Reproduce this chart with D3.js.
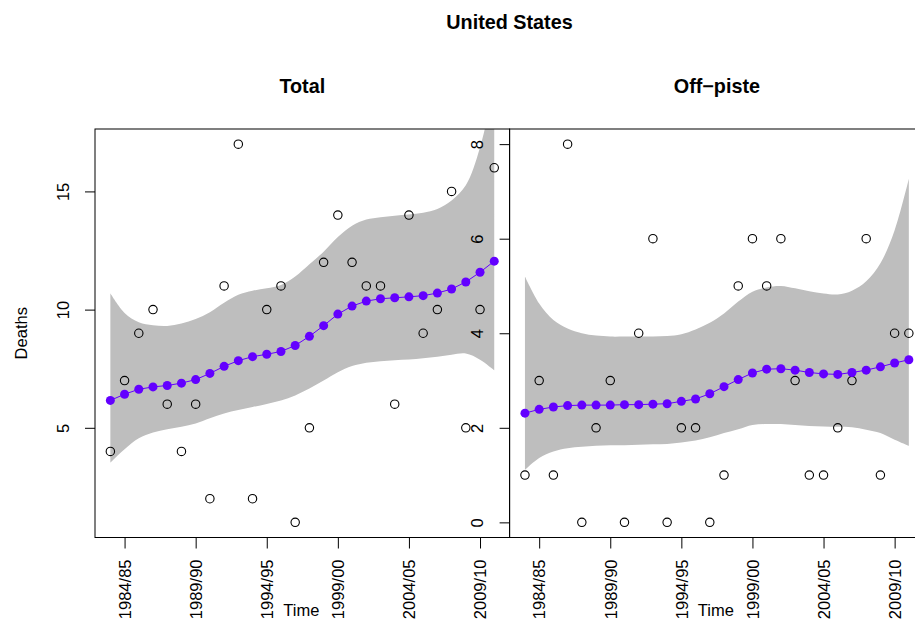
<!DOCTYPE html>
<html>
<head>
<meta charset="utf-8">
<script src="https://cdn.jsdelivr.net/npm/d3@7"></script>
<style>
  body { margin: 0; background: #fff; }
  svg { display: block; font-family: "Liberation Sans", Arial, sans-serif; }
</style>
</head>
<body>
<div id="chart"></div>
<script>
// seasons 1983/84 .. 2010/11
const seasons = d3.range(1983, 2011).map(y => y + "/" + String((y + 1) % 100).padStart(2, "0"));
const tickSeasons = ["1984/85", "1989/90", "1994/95", "1999/00", "2004/05", "2009/10"];

const totalDeaths = [4, 7, 9, 10, 6, 4, 6, 2, 11, 17, 2, 10, 11, 1, 5, 12, 14, 12, 11, 11, 6, 14, 9, 10, 15, 5, 10, 16];
const totalFit = [6.16, 6.42, 6.63, 6.73, 6.79, 6.89, 7.04, 7.30, 7.60, 7.84, 8.01, 8.11, 8.23, 8.48,
                  8.87, 9.32, 9.81, 10.15, 10.36, 10.46, 10.50, 10.54, 10.59, 10.70, 10.87, 11.17, 11.58, 12.05];
const totalUpper = [10.69, 9.86, 9.47, 9.34, 9.31, 9.41, 9.6, 9.89, 10.29, 10.63, 10.8, 10.9, 11.04, 11.4,
                    11.92, 12.45, 13.07, 13.55, 13.81, 13.91, 13.97, 14.02, 14.1, 14.26, 14.62, 15.26, 16.86, 19.5];
const totalLower = [3.52, 4.09, 4.56, 4.8, 4.94, 5.04, 5.18, 5.4, 5.61, 5.75, 5.88, 6.01, 6.15, 6.37,
                    6.66, 7.0, 7.35, 7.61, 7.75, 7.82, 7.86, 7.89, 7.94, 8.01, 8.09, 8.14, 7.88, 7.43];

const offDeaths = [1, 3, 1, 8, 0, 2, 3, 0, 4, 6, 0, 2, 2, 0, 1, 5, 6, 5, 6, 3, 1, 1, 2, 3, 6, 1, 4, 4];
const offFit = [2.31, 2.39, 2.44, 2.47, 2.48, 2.48, 2.48, 2.49, 2.49, 2.50, 2.51, 2.56, 2.61, 2.72,
                2.87, 3.02, 3.16, 3.24, 3.25, 3.22, 3.17, 3.14, 3.13, 3.17, 3.22, 3.29, 3.37, 3.44];
const offUpper = [5.2, 4.63, 4.28, 4.1, 4.0, 3.95, 3.93, 3.93, 3.93, 3.93, 3.94, 3.98, 4.08, 4.22,
                  4.42, 4.67, 4.88, 4.97, 5.0, 4.95, 4.89, 4.84, 4.82, 4.9, 5.1, 5.48, 6.18, 7.27];
const offLower = [1.11, 1.36, 1.5, 1.57, 1.6, 1.62, 1.63, 1.63, 1.64, 1.65, 1.66, 1.69, 1.73, 1.80,
                  1.89, 1.97, 2.06, 2.08, 2.08, 2.06, 2.04, 2.03, 2.02, 2.01, 1.96, 1.89, 1.75, 1.62];

const totalTicks = [5, 10, 15];
const offTicks = [0, 2, 4, 6, 8];

const width = 915, height = 624;
const boxTop = 129, boxBottom = 537.5, panelW = 414.6;
const fs = 16.5;
const purple = "#6300ff";

const panels = [
    {title: "Total", left: 95, obs: totalDeaths, fit: totalFit, up: totalUpper, lo: totalLower, ticks: totalTicks, ylab: "Deaths"},
    {title: "Off\u2212piste", left: 95 + panelW, obs: offDeaths, fit: offFit, up: offUpper, lo: offLower, ticks: offTicks, ylab: null}
];

const svg = d3.select("#chart").append("svg")
    .attr("width", width)
    .attr("height", height);

svg.append("text")
    .attr("x", 509.5).attr("y", 29)
    .attr("text-anchor", "middle")
    .style("font-size", (fs * 1.2) + "px")
    .style("font-weight", "bold")
    .text("United States");

panels.forEach((p, k) => {
    const n = p.obs.length;
    const pad = (n - 1) * 0.04;
    const x = d3.scaleLinear().domain([-pad, n - 1 + pad]).range([p.left, p.left + panelW]);
    const ext = d3.extent(p.obs);
    const ypad = (ext[1] - ext[0]) * 0.04;
    const y = d3.scaleLinear().domain([ext[0] - ypad, ext[1] + ypad]).range([boxBottom, boxTop]);

    const g = svg.append("g");

    const clipId = "clip" + k;
    svg.append("clipPath").attr("id", clipId)
        .append("rect")
        .attr("x", p.left).attr("y", boxTop)
        .attr("width", panelW).attr("height", boxBottom - boxTop);

    const area = d3.area()
        .x((d, i) => x(i))
        .y0((d, i) => y(p.lo[i]))
        .y1((d, i) => y(p.up[i]))
        .curve(d3.curveCatmullRom);

    g.append("path")
        .datum(p.obs)
        .attr("clip-path", `url(#${clipId})`)
        .attr("fill", "#bebebe")
        .attr("d", area);

    g.selectAll("circle.obs")
        .data(p.obs)
        .join("circle")
        .attr("class", "obs")
        .attr("cx", (d, i) => x(i))
        .attr("cy", d => y(d))
        .attr("r", 4.2)
        .attr("fill", "none")
        .attr("stroke", "#000")
        .attr("stroke-width", 1.1);

    const line = d3.line()
        .x((d, i) => x(i))
        .y(d => y(d));

    g.append("path")
        .datum(p.fit)
        .attr("fill", "none")
        .attr("stroke", purple)
        .attr("stroke-width", 1)
        .attr("d", line);

    g.selectAll("circle.fit")
        .data(p.fit)
        .join("circle")
        .attr("class", "fit")
        .attr("cx", (d, i) => x(i))
        .attr("cy", d => y(d))
        .attr("r", 4.5)
        .attr("fill", purple);

    // x axis
    const xAxis = g.append("g")
        .attr("transform", `translate(0,${boxBottom})`)
        .call(d3.axisBottom(x)
            .tickValues(tickSeasons.map(s => seasons.indexOf(s)))
            .tickFormat(i => seasons[i])
            .tickSize(11));
    xAxis.select(".domain").remove();
    xAxis.selectAll("line").attr("stroke", "#000");
    xAxis.selectAll("text")
        .attr("x", 0).attr("y", 0).attr("dy", "0.35em")
        .attr("text-anchor", "end")
        .attr("transform", "translate(0,22) rotate(-90)")
        .attr("fill", "#000")
        .style("font-size", fs + "px")
        .style("font-family", "inherit");

    // y axis
    const yAxis = g.append("g")
        .attr("transform", `translate(${p.left},0)`)
        .call(d3.axisLeft(y).tickValues(p.ticks).tickSize(10));
    yAxis.select(".domain").remove();
    yAxis.selectAll("line").attr("stroke", "#000");
    yAxis.selectAll("text")
        .attr("x", 0).attr("y", 0).attr("dy", "0.35em")
        .attr("text-anchor", "middle")
        .attr("transform", "translate(-32,0) rotate(-90)")
        .attr("fill", "#000")
        .style("font-size", fs + "px")
        .style("font-family", "inherit");

    // box
    g.append("rect")
        .attr("x", p.left).attr("y", boxTop)
        .attr("width", panelW).attr("height", boxBottom - boxTop)
        .attr("fill", "none")
        .attr("stroke", "#000")
        .attr("stroke-width", 1);

    g.append("text")
        .attr("x", p.left + panelW / 2).attr("y", 93)
        .attr("text-anchor", "middle")
        .style("font-size", (fs * 1.2) + "px")
        .style("font-weight", "bold")
        .text(p.title);

    g.append("text")
        .attr("x", p.left + panelW / 2 - 1).attr("y", 616)
        .attr("text-anchor", "middle")
        .style("font-size", fs + "px")
        .text("Time");

    if (p.ylab) {
        g.append("text")
            .attr("transform", `translate(27,${(boxTop + boxBottom) / 2}) rotate(-90)`)
            .attr("text-anchor", "middle")
            .style("font-size", fs + "px")
            .text(p.ylab);
    }
});
</script>
</body>
</html>
